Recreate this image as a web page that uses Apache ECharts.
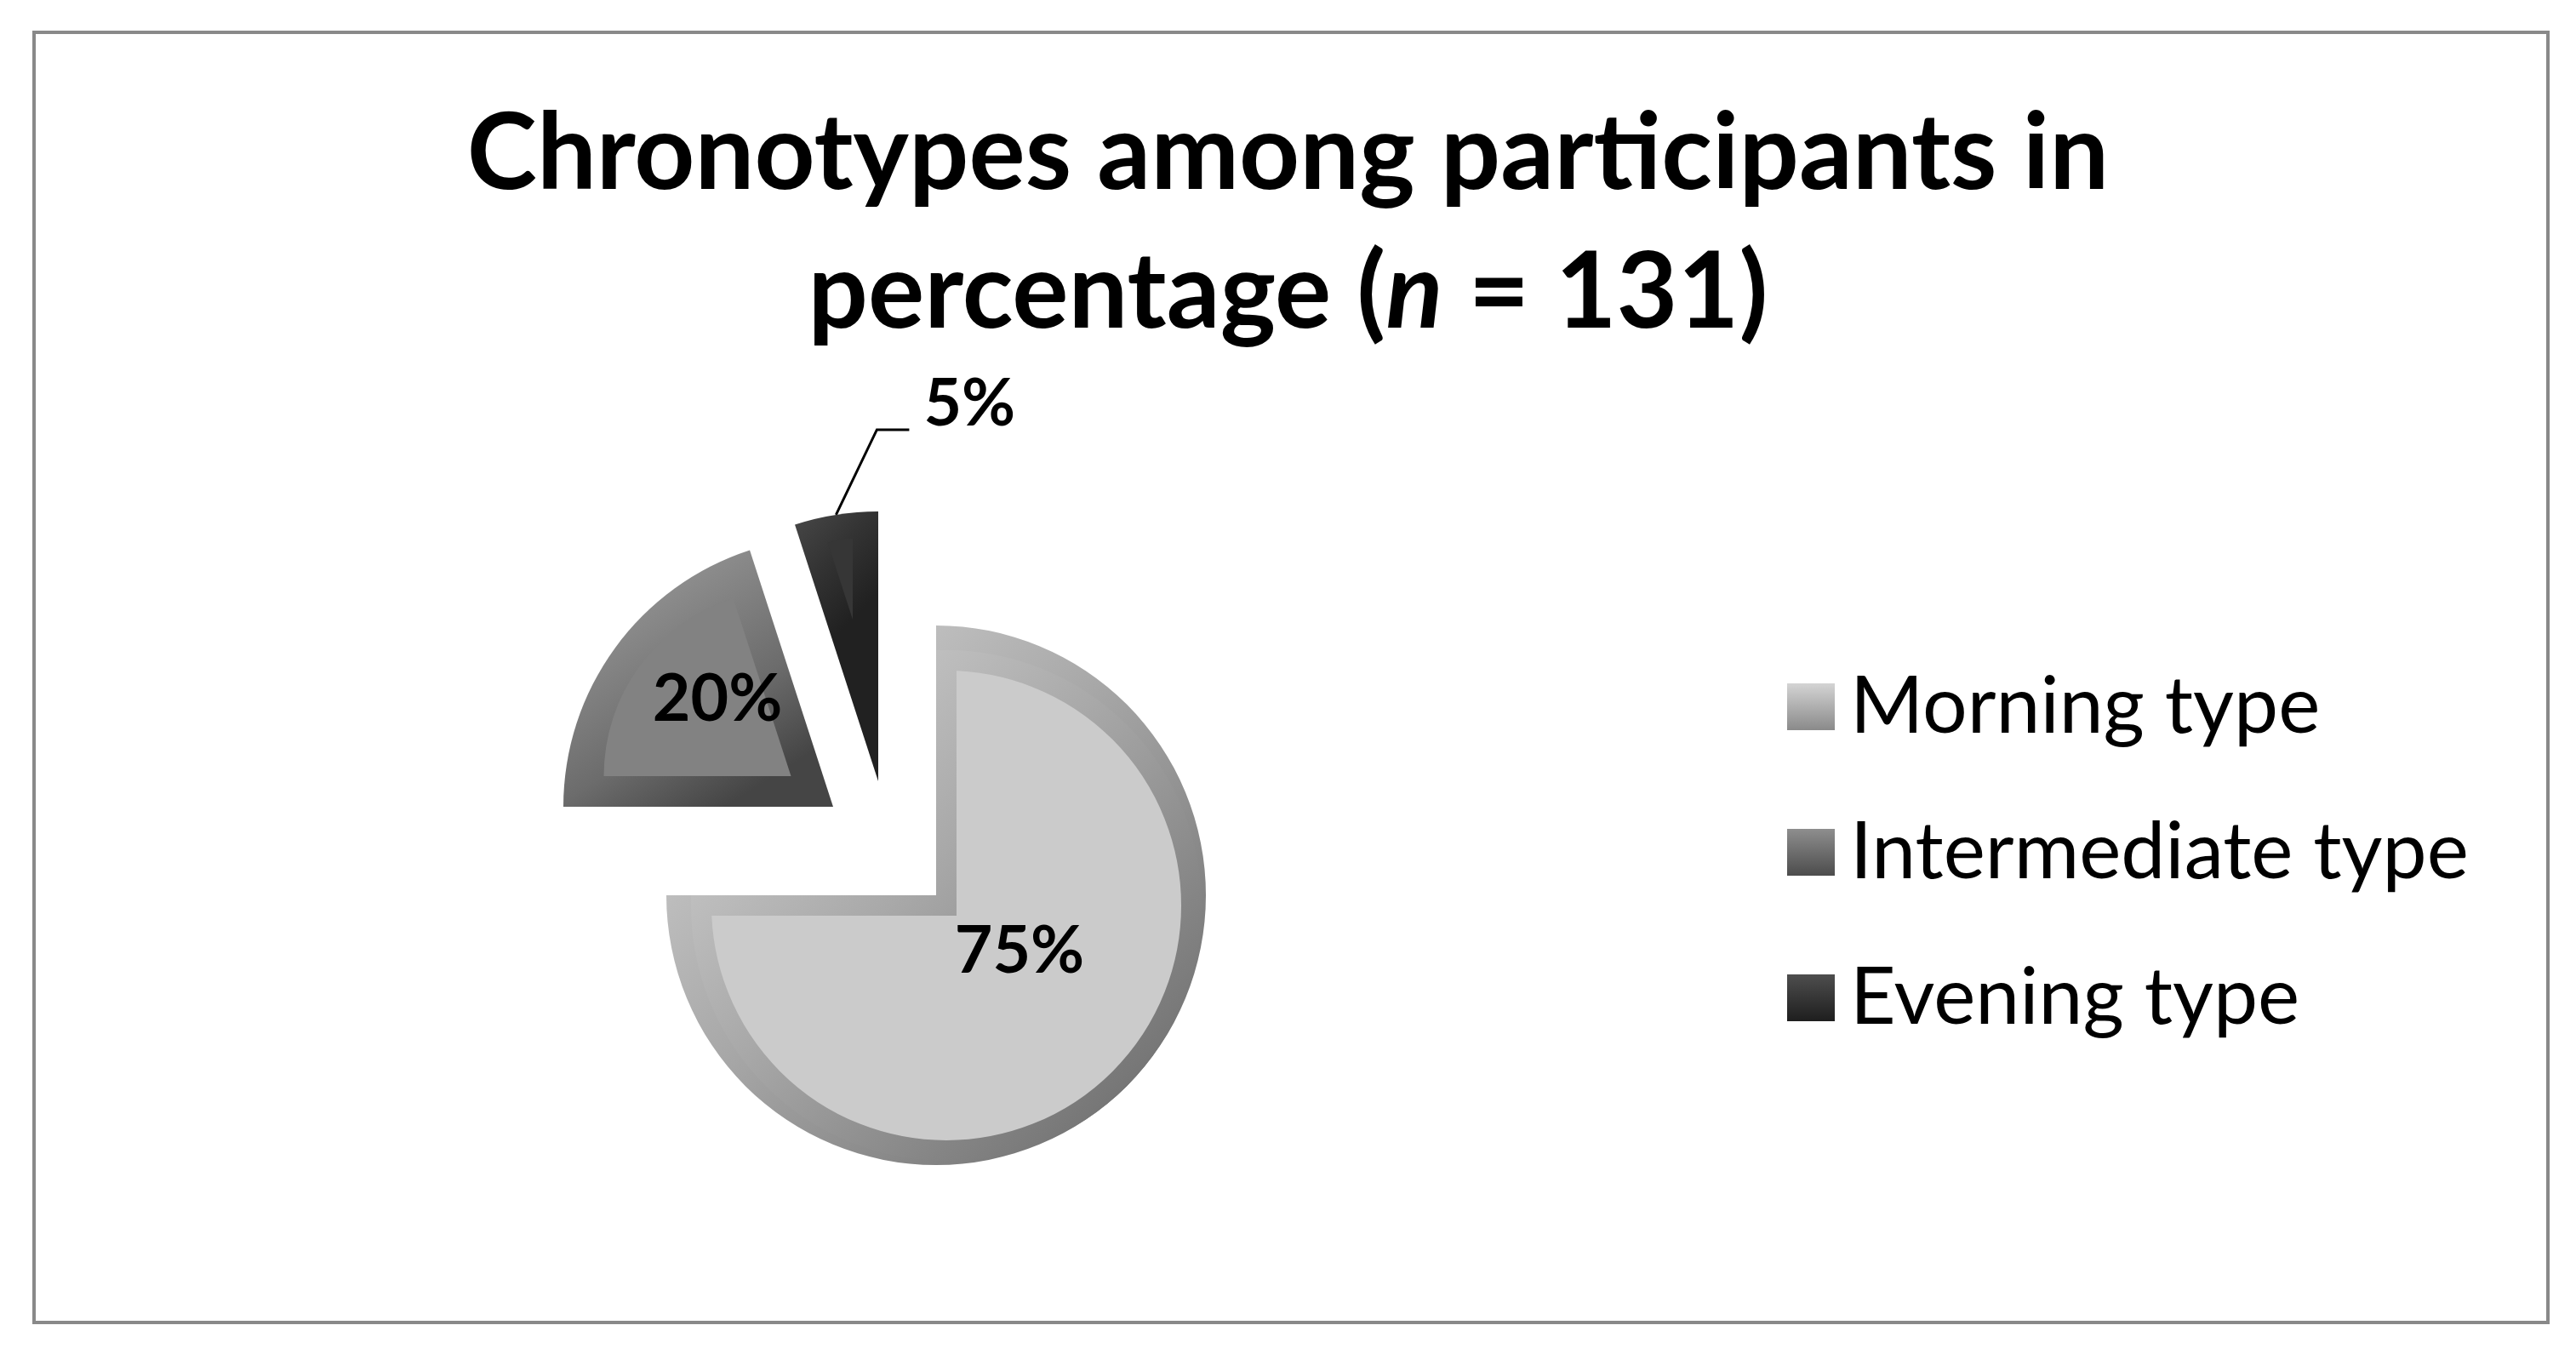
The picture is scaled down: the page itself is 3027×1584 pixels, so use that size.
<!DOCTYPE html>
<html>
<head>
<meta charset="utf-8">
<title>Chronotypes</title>
<script src="https://cdn.jsdelivr.net/npm/echarts@6/dist/echarts.min.js"></script>
<style>
  html, body { margin: 0; padding: 0; background: #fff; }
  #chart { width: 3027px; height: 1584px; }
</style>
</head>
<body>
<div id="chart"></div>
<script>
const categories = ['Morning type', 'Intermediate type', 'Evening type'];
const values = [75, 20, 5];

const FONT = 'Lato';

// font size that makes a text as wide as in the picture
function fitSize(text, weight, width) {
  const ctx = document.createElement('canvas').getContext('2d');
  ctx.font = weight + ' 100px ' + FONT;
  return Math.round(100 * width / ctx.measureText(text).width);
}
const titleSize = fitSize('Chronotypes among participants in', 'bold', 1927);
const legendSize = fitSize('Intermediate type', 'normal', 723);
const labelSize = fitSize('75%', 'bold', 152);

function grad(x2, y2, stops) {
  return {
    type: 'linear', x: 0, y: 0, x2: x2, y2: y2,
    colorStops: stops.map(s => ({ offset: s[0], color: s[1] }))
  };
}

const labelBase = {
  show: true,
  formatter: '{c}%',
  fontFamily: FONT,
  fontWeight: 'bold',
  fontSize: labelSize,
  color: '#000'
};

// one pie per slice layer: only slice idx is painted, the others stay empty
function slice(idx, opts) {
  return {
    type: 'pie',
    silent: true,
    startAngle: 90,
    clockwise: true,
    avoidLabelOverlap: false,
    center: opts.center,
    radius: opts.radius,
    z: opts.z,
    label: opts.label || { show: false },
    labelLine: opts.labelLine || { show: false },
    labelLayout: opts.labelLayout,
    emphasis: { disabled: true },
    data: categories.map((name, j) => {
      if (j !== idx) {
        return {
          name: name, value: values[j],
          itemStyle: { color: 'transparent', borderWidth: 0 },
          label: { show: false }, labelLine: { show: false }
        };
      }
      return { name: name, value: values[j], itemStyle: opts.itemStyle };
    })
  };
}

const morningRim = grad(1, 1, [[0, '#d8d8d8'], [0.45, '#a8a8a8'], [1, '#646464']]);

const series = [
  // morning: rim, then face with a bevel border
  slice(0, {
    center: [1100, 1052], radius: 317, z: 1,
    itemStyle: { color: morningRim }
  }),
  slice(0, {
    center: [1112, 1064], radius: 288, z: 2,
    itemStyle: {
      color: '#cbcbcb',
      borderWidth: 24,
      borderJoin: 'miter',
      borderColor: morningRim
    },
    label: Object.assign({ position: 'inside', offset: [-18, -50] }, labelBase)
  }),
  // intermediate: rim then face
  slice(1, {
    center: [979, 948], radius: 317, z: 1,
    itemStyle: { color: grad(0.6, 1, [[0, '#a4a4a4'], [0.7, '#6c6c6c'], [1, '#454545']]) }
  }),
  slice(1, {
    center: [929.5, 912], radius: 220, z: 2,
    itemStyle: { color: '#828282' },
    label: Object.assign({ position: 'inside', offset: [5, -23] }, labelBase)
  }),
  // evening: rim then face, label outside
  slice(2, {
    center: [1032, 918], radius: 317, z: 1,
    itemStyle: { color: grad(1, 0.3, [[0, '#484848'], [0.5, '#333333'], [1, '#212121']]) },
    label: Object.assign({ position: 'outside' }, labelBase),
    labelLine: { show: true, lineStyle: { color: '#000', width: 3 } },
    labelLayout: function (params) {
      const p = params.labelLinePoints;
      if (!p) return {};
      const x0 = p[0][0], y0 = p[0][1];
      return {
        x: x0 + 103, y: y0 - 130, align: 'left', verticalAlign: 'middle',
        labelLinePoints: [[x0, y0], [x0 + 48, y0 - 100], [x0 + 86, y0 - 100]]
      };
    }
  }),
  slice(2, {
    center: [1002, 728], radius: 95, z: 2,
    itemStyle: { color: '#363636' }
  })
];

const legendColors = [
  grad(0, 1, [[0, '#d4d4d4'], [1, '#8a8a8a']]),
  grad(0, 1, [[0, '#8e8e8e'], [1, '#4c4c4c']]),
  grad(0, 1, [[0, '#4e4e4e'], [1, '#1e1e1e']])
];

const option = {
  backgroundColor: '#fff',
  animation: false,
  title: {
    text: 'Chronotypes among participants in\npercentage ({i|n} = 131)',
    left: 'center',
    top: 96,
    textStyle: {
      fontFamily: FONT, fontWeight: 'bold', fontSize: titleSize,
      lineHeight: 163, color: '#000',
      rich: {
        i: { fontFamily: FONT, fontWeight: 'bold', fontStyle: 'italic', fontSize: titleSize, lineHeight: 163, color: '#000' }
      }
    }
  },
  legend: {
    orient: 'vertical',
    left: 2095,
    top: 779,
    icon: 'rect',
    itemWidth: 56,
    itemHeight: 55,
    itemGap: 78,
    selectedMode: false,
    itemStyle: { borderWidth: 0 },
    textStyle: {
      fontFamily: FONT, fontSize: legendSize, color: '#000',
      lineHeight: 55, padding: [0, 0, 0, 13]
    },
    data: categories.map((name, i) => ({ name: name, itemStyle: { color: legendColors[i] } }))
  },
  graphic: [{
    type: 'rect',
    shape: { x: 40, y: 38, width: 2954, height: 1516 },
    style: { fill: 'none', stroke: '#898989', lineWidth: 4 },
    silent: true
  }],
  series: series
};

const myChart = echarts.init(document.getElementById('chart'));
myChart.setOption(option);
</script>
</body>
</html>
